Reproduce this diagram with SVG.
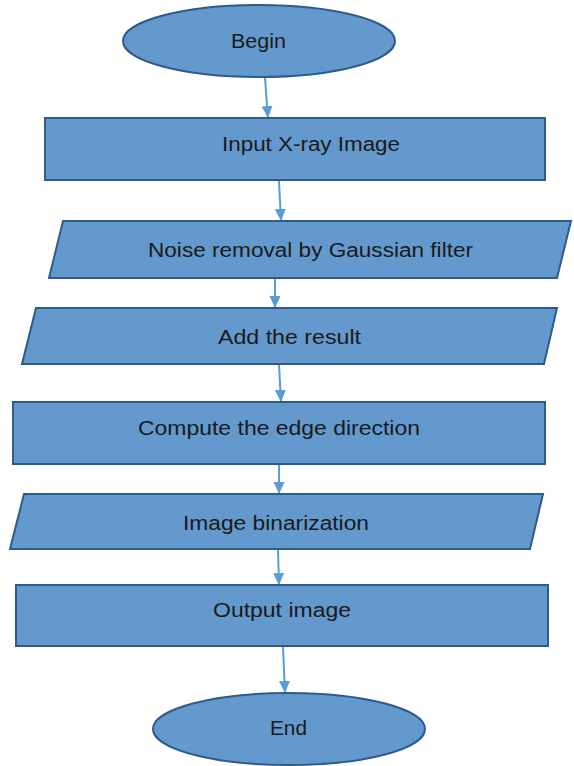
<svg xmlns="http://www.w3.org/2000/svg" width="574" height="766" viewBox="0 0 574 766">
<defs>
<style>
.n{fill:#6399CC;stroke:#2F5B8A;stroke-width:2}
.t{font-family:"Liberation Sans",Arial,sans-serif;font-size:20px;fill:#1a1a1a;text-anchor:middle}
.c{stroke:#5B9BD5;stroke-width:2;fill:none;marker-end:url(#ah)}
</style>
<marker id="ah" viewBox="0 0 12 12" refX="12" refY="6" markerWidth="12" markerHeight="12" markerUnits="userSpaceOnUse" orient="auto">
<path d="M0,0.5 L12,6 L0,11.5 z" fill="#5B9BD5"/>
</marker>
</defs>
<rect width="574" height="766" fill="#ffffff"/>
<g id="connectors">
<line class="c" x1="265" y1="78" x2="268" y2="118"/>
<line class="c" x1="279" y1="181" x2="281" y2="221"/>
<line class="c" x1="275" y1="279" x2="275" y2="308"/>
<line class="c" x1="279" y1="365" x2="281" y2="402"/>
<line class="c" x1="279" y1="465" x2="279" y2="494"/>
<line class="c" x1="278" y1="550" x2="279" y2="585"/>
<line class="c" x1="283" y1="647" x2="285" y2="693"/>
</g>
<g id="begin">
<ellipse class="n" cx="259" cy="41" rx="136" ry="36"/>
<text class="t" x="258.5" y="48" textLength="55" lengthAdjust="spacingAndGlyphs">Begin</text>
</g>
<g id="input">
<rect class="n" x="45" y="118" width="500" height="62"/>
<text class="t" x="311" y="151" textLength="178" lengthAdjust="spacingAndGlyphs">Input X-ray Image</text>
</g>
<g id="noise">
<polygon class="n" points="63,221 571,221 557,278 49,278"/>
<text class="t" x="310.5" y="257" textLength="325" lengthAdjust="spacingAndGlyphs">Noise removal by Gaussian filter</text>
</g>
<g id="add">
<polygon class="n" points="36,308 557,308 544,364 22,364"/>
<text class="t" x="289.5" y="344" textLength="143" lengthAdjust="spacingAndGlyphs">Add the result</text>
</g>
<g id="compute">
<rect class="n" x="13" y="402" width="532" height="62"/>
<text class="t" x="279" y="435" textLength="282" lengthAdjust="spacingAndGlyphs">Compute the edge direction</text>
</g>
<g id="binarize">
<polygon class="n" points="24,494 543,494 530,549 10,549"/>
<text class="t" x="276" y="530" textLength="186" lengthAdjust="spacingAndGlyphs">Image binarization</text>
</g>
<g id="output">
<rect class="n" x="16" y="585" width="532" height="61"/>
<text class="t" x="282" y="617" textLength="138" lengthAdjust="spacingAndGlyphs">Output image</text>
</g>
<g id="end">
<ellipse class="n" cx="289" cy="729" rx="136" ry="36"/>
<text class="t" x="288.5" y="735" textLength="37" lengthAdjust="spacingAndGlyphs">End</text>
</g>
</svg>
